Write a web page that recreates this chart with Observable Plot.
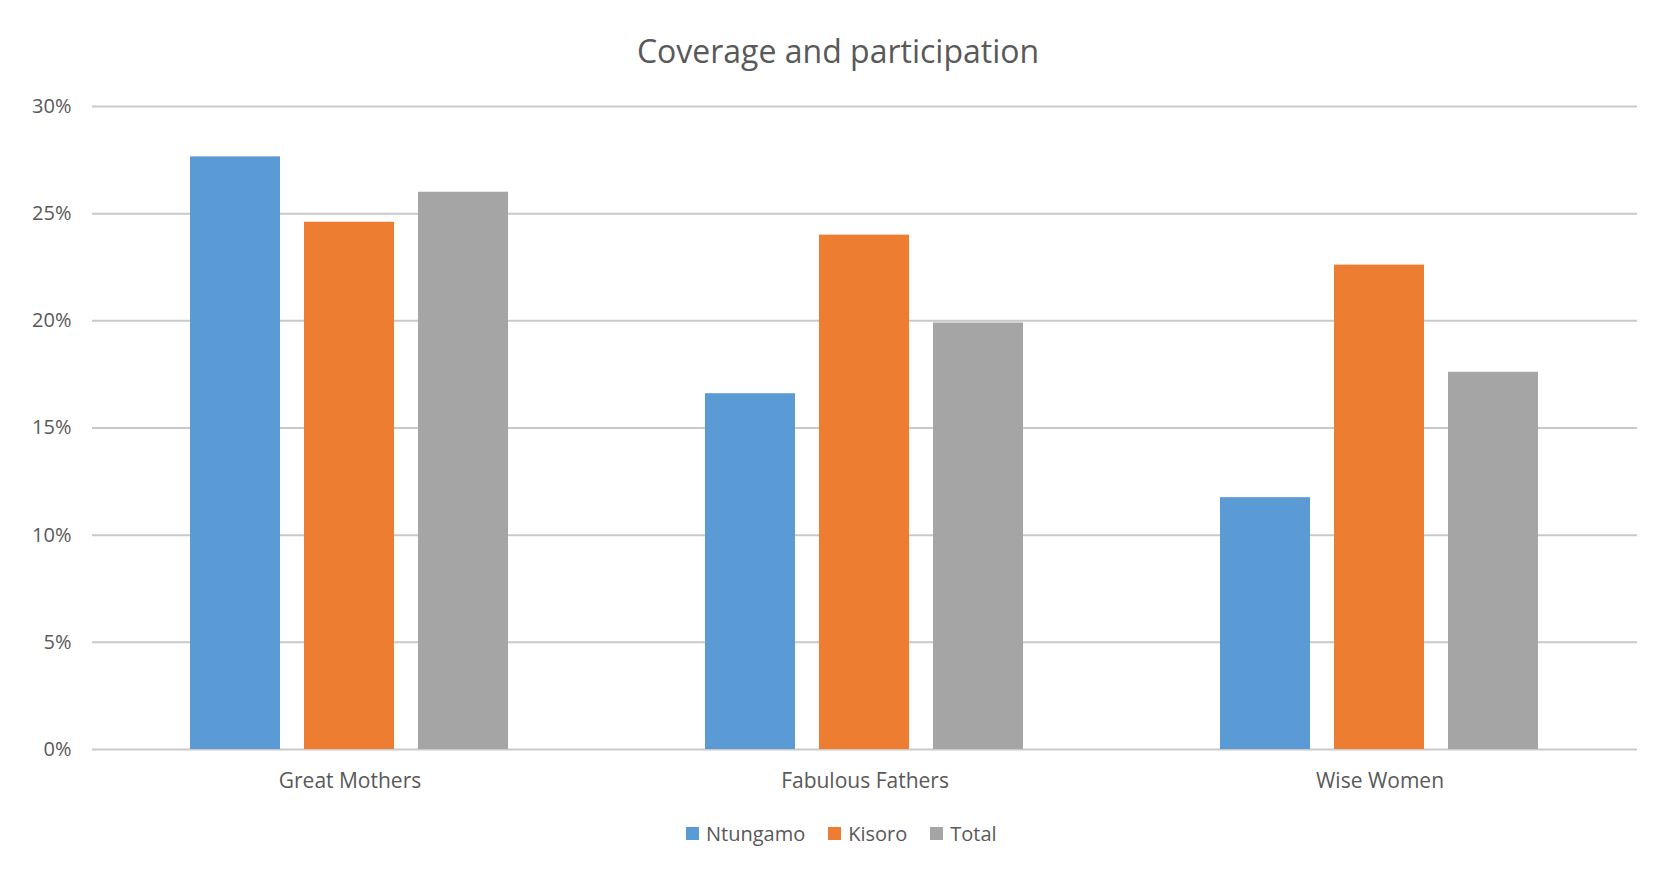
<!DOCTYPE html>
<html>
<head>
<meta charset="utf-8">
<script src="https://cdn.jsdelivr.net/npm/d3@7"></script>
<script src="https://cdn.jsdelivr.net/npm/@observablehq/plot@0.6"></script>
<style>
  html, body { margin: 0; padding: 0; background: #ffffff; }
  #wrap { position: relative; width: 1661px; height: 874px; background: #ffffff; font-family: "Open Sans", sans-serif; color: #595959; overflow: hidden; }
  #title { position: absolute; left: 0; top: 29px; width: 1676px; text-align: center; font-size: 32px; line-height: normal; color: #595959; white-space: nowrap; }
  #chart { position: absolute; left: 0; top: 80px; }
  #legend { position: absolute; left: 686px; top: 820px; display: flex; align-items: center; font-size: 20px; line-height: normal; color: #595959; white-space: nowrap; }
  .item { display: flex; align-items: center; margin-right: 23px; }
  .sw { width: 13px; height: 13px; margin-right: 7px; display: inline-block; }
</style>
</head>
<body>
<div id="wrap">
  <div id="title">Coverage and participation</div>
  <div id="chart"></div>
  <div id="legend"></div>
</div>
<script>
const categories = ["Great Mothers", "Fabulous Fathers", "Wise Women"];
const series = ["Ntungamo", "Kisoro", "Total"];
const ntungamo = [27.65, 16.6, 11.75];
const kisoro = [24.6, 24.0, 22.6];
const total = [26.0, 19.9, 17.6];
const colors = ["#5B9BD5", "#ED7D31", "#A5A5A5"];
const yTicks = [0, 5, 10, 15, 20, 25, 30];

const seriesValues = [ntungamo, kisoro, total];
const data = categories.flatMap((c, i) =>
  series.map((s, j) => ({category: c, series: s, value: seriesValues[j][i]}))
);

const chart = Plot.plot({
  width: 1661,
  height: 730,
  marginTop: 26,
  marginBottom: 61,
  marginLeft: 91,
  marginRight: 24,
  style: {fontFamily: "Open Sans, sans-serif", fontSize: "20px", color: "#595959", background: "transparent", overflow: "visible"},
  fx: {domain: categories, padding: 0, label: null},
  x: {domain: series, paddingInner: 0.2087, paddingOuter: 0.845, axis: null},
  y: {domain: [0, 30], label: null},
  color: {domain: series, range: colors},
  marks: [
    Plot.gridY(yTicks, {stroke: "#c9c9c9", strokeOpacity: 1, strokeWidth: 2}),
    Plot.axisY(yTicks, {tickSize: 0, tickPadding: 21, tickFormat: d => d + "%", fontSize: 20, label: null}),
    Plot.axisFx({anchor: "bottom", tickSize: 0, tickPadding: 24, fontSize: 21, label: null}),
    Plot.barY(data, {fx: "category", x: "series", y: "value", fill: "series"})
  ]
});
document.getElementById("chart").appendChild(chart);

const legend = document.getElementById("legend");
series.forEach((s, i) => {
  const item = document.createElement("div");
  item.className = "item";
  const sw = document.createElement("span");
  sw.className = "sw";
  sw.style.background = colors[i];
  const label = document.createElement("span");
  label.textContent = s;
  item.appendChild(sw);
  item.appendChild(label);
  legend.appendChild(item);
});
</script>
</body>
</html>
